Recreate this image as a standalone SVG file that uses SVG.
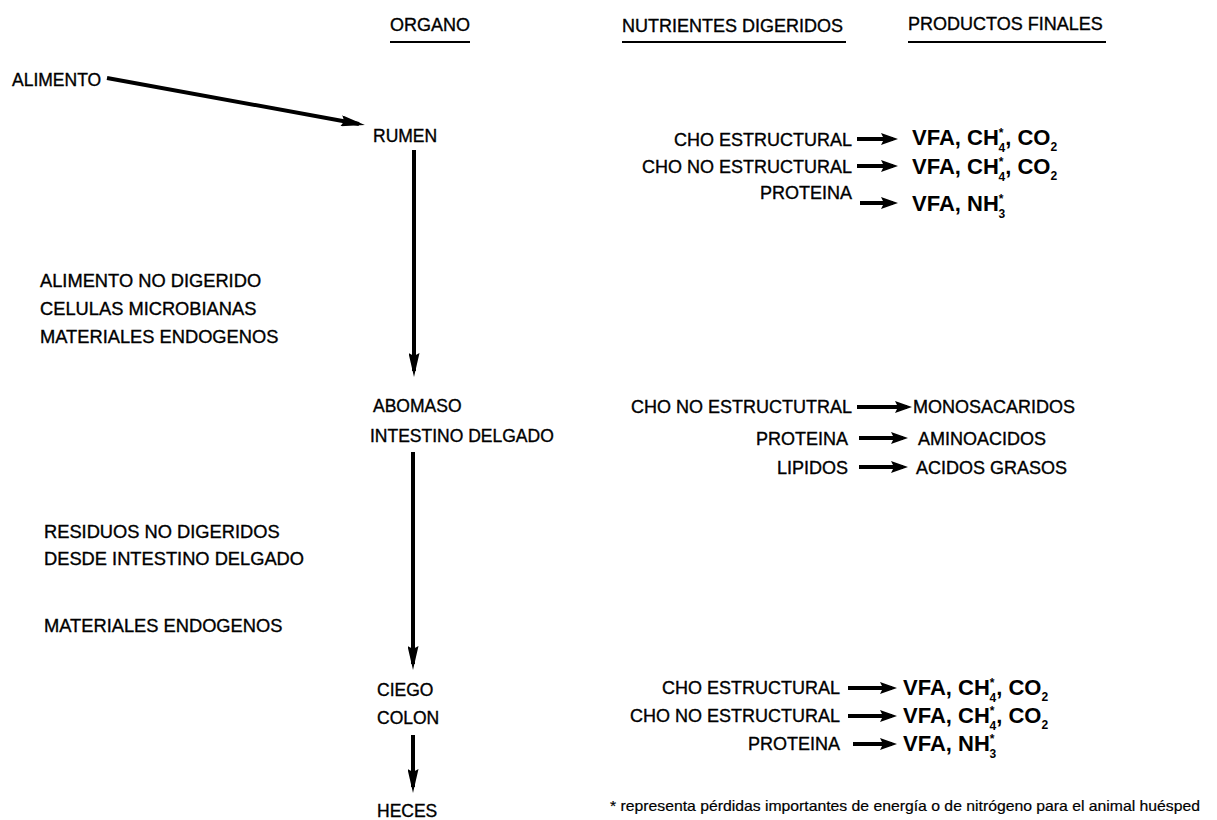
<svg xmlns="http://www.w3.org/2000/svg" width="1217" height="820" viewBox="0 0 1217 820">
<style>
text{font-family:"Liberation Sans",Arial,sans-serif;fill:#000;stroke:#000;stroke-width:0.35px}
.hd{font-size:18px}
.org{font-size:17.5px}
.lft{font-size:18.3px}
.nut{font-size:18px;text-anchor:end}
.prd{font-size:18px}
.vfa{font-size:22px;font-weight:bold;stroke-width:0}
.sup{font-size:12px}
.sub{font-size:12px}
.fn{font-size:15px;stroke-width:0.2px}
.ul{stroke:#000;stroke-width:2}
.big{stroke:#000;stroke-width:4;fill:none;marker-end:url(#ah)}
.sm{stroke:#000;stroke-width:4;fill:none;marker-end:url(#sh)}
</style>
<defs>
<marker id="ah" viewBox="0 0 24 11" refX="18" refY="5.5" markerWidth="24" markerHeight="11" markerUnits="userSpaceOnUse" orient="auto"><path d="M0,0 L24,5.5 L0,11 L3,5.5 z" fill="#000"/></marker>
<marker id="sh" viewBox="0 0 17 12" refX="12" refY="6" markerWidth="17" markerHeight="12" markerUnits="userSpaceOnUse" orient="auto"><path d="M0,0 L17,6 L0,12 L3,6 z" fill="#000"/></marker>
</defs>
<rect width="1217" height="820" fill="#fff"/>

<g id="headers">
<text class="hd" x="390" y="31">ORGANO</text>
<line class="ul" x1="390" y1="42" x2="470" y2="42"/>
<text class="hd" x="622" y="32">NUTRIENTES DIGERIDOS</text>
<line class="ul" x1="622" y1="42" x2="846" y2="42"/>
<text class="hd" x="908" y="30">PRODUCTOS FINALES</text>
<line class="ul" x1="908" y1="42" x2="1106" y2="42"/>
</g>

<g id="alimento"><text class="org" x="12" y="86">ALIMENTO</text></g>
<g id="rumen"><text class="org" x="373" y="142">RUMEN</text></g>
<g id="abomaso"><text class="org" x="373" y="412">ABOMASO</text><text class="org" x="370" y="442">INTESTINO DELGADO</text></g>
<g id="ciego"><text class="org" x="377" y="696">CIEGO</text><text class="org" x="377" y="724">COLON</text></g>
<g id="heces"><text class="org" x="377" y="817">HECES</text></g>

<g id="flujo1">
<text class="lft" x="40" y="287">ALIMENTO NO DIGERIDO</text>
<text class="lft" x="40" y="315">CELULAS MICROBIANAS</text>
<text class="lft" x="40" y="343">MATERIALES ENDOGENOS</text>
</g>
<g id="flujo2">
<text class="lft" x="44" y="538">RESIDUOS NO DIGERIDOS</text>
<text class="lft" x="44" y="565">DESDE INTESTINO DELGADO</text>
<text class="lft" x="44" y="632">MATERIALES ENDOGENOS</text>
</g>

<g id="connectors">
<line class="big" x1="107" y1="78" x2="359" y2="124"/>
<line class="big" x1="414" y1="150" x2="414" y2="371"/>
<line class="big" x1="413" y1="452" x2="413" y2="664"/>
<line class="big" x1="413" y1="735" x2="413" y2="787"/>
<line class="sm" x1="857" y1="139" x2="893" y2="139"/>
<line class="sm" x1="857" y1="166" x2="893" y2="166"/>
<line class="sm" x1="860" y1="203" x2="893" y2="203"/>
<line class="sm" x1="857" y1="407" x2="907" y2="407"/>
<line class="sm" x1="859" y1="438" x2="903" y2="438"/>
<line class="sm" x1="859" y1="467" x2="903" y2="467"/>
<line class="sm" x1="848" y1="688" x2="892" y2="688"/>
<line class="sm" x1="848" y1="716" x2="892" y2="716"/>
<line class="sm" x1="853" y1="744" x2="892" y2="744"/>
</g>

<g id="rumen-nut">
<text class="nut" x="852" y="146">CHO ESTRUCTURAL</text>
<text class="nut" x="852" y="173">CHO NO ESTRUCTURAL</text>
<text class="nut" x="852" y="199">PROTEINA</text>
<text class="vfa" x="912" y="145">VFA, CH<tspan class="sup" dy="-8">*</tspan><tspan class="sub" dx="-5" dy="15">4</tspan><tspan dy="-7">, CO</tspan><tspan class="sub" dy="6">2</tspan></text>
<text class="vfa" x="912" y="174">VFA, CH<tspan class="sup" dy="-8">*</tspan><tspan class="sub" dx="-5" dy="15">4</tspan><tspan dy="-7">, CO</tspan><tspan class="sub" dy="6">2</tspan></text>
<text class="vfa" x="912" y="211">VFA, NH<tspan class="sup" dy="-8">*</tspan><tspan class="sub" dx="-5" dy="15">3</tspan></text>
</g>

<g id="abomaso-nut">
<text class="nut" x="852" y="413">CHO NO ESTRUCTUTRAL</text>
<text class="nut" x="848" y="445">PROTEINA</text>
<text class="nut" x="848" y="474">LIPIDOS</text>
<text class="prd" x="913" y="413">MONOSACARIDOS</text>
<text class="prd" x="918" y="445">AMINOACIDOS</text>
<text class="prd" x="916" y="474">ACIDOS GRASOS</text>
</g>

<g id="ciego-nut">
<text class="nut" x="840" y="694">CHO ESTRUCTURAL</text>
<text class="nut" x="840" y="722">CHO NO ESTRUCTURAL</text>
<text class="nut" x="840" y="750">PROTEINA</text>
<text class="vfa" x="903" y="695">VFA, CH<tspan class="sup" dy="-8">*</tspan><tspan class="sub" dx="-5" dy="15">4</tspan><tspan dy="-7">, CO</tspan><tspan class="sub" dy="6">2</tspan></text>
<text class="vfa" x="903" y="723">VFA, CH<tspan class="sup" dy="-8">*</tspan><tspan class="sub" dx="-5" dy="15">4</tspan><tspan dy="-7">, CO</tspan><tspan class="sub" dy="6">2</tspan></text>
<text class="vfa" x="903" y="751">VFA, NH<tspan class="sup" dy="-8">*</tspan><tspan class="sub" dx="-5" dy="15">3</tspan></text>
</g>

<g id="nota">
<text class="fn" x="610" y="811" textLength="590" lengthAdjust="spacingAndGlyphs">* representa pérdidas importantes de energía o de nitrógeno para el animal huésped</text>
</g>
</svg>
